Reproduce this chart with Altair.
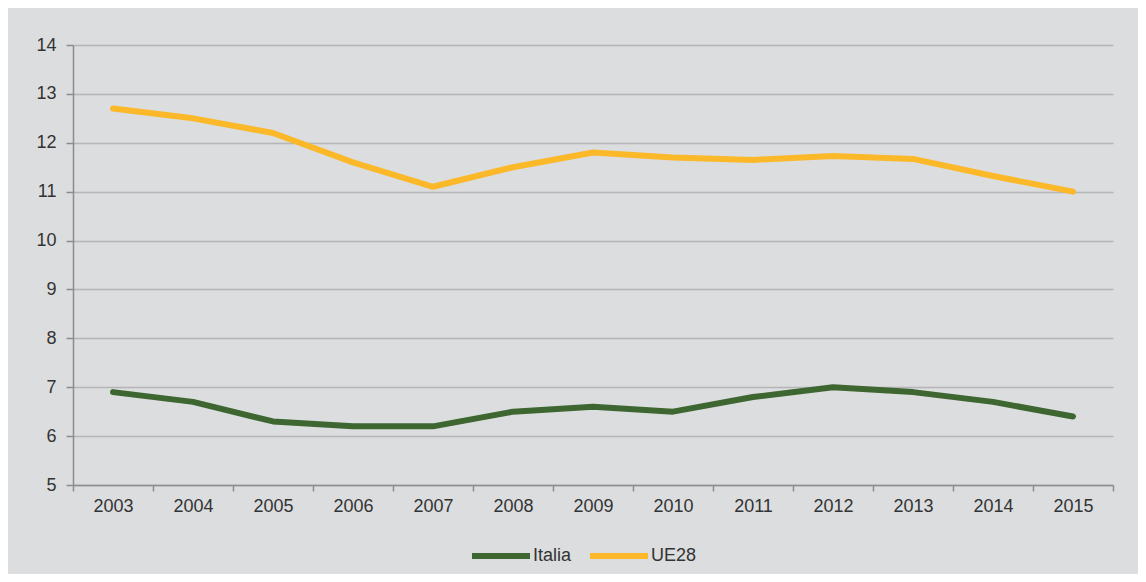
import altair as alt
import pandas as pd

years = ["2003", "2004", "2005", "2006", "2007", "2008", "2009",
         "2010", "2011", "2012", "2013", "2014", "2015"]
italia = [6.9, 6.7, 6.3, 6.2, 6.2, 6.5, 6.6, 6.5, 6.8, 7.0, 6.9, 6.7, 6.4]
ue28 = [12.7, 12.5, 12.2, 11.6, 11.1, 11.5, 11.8, 11.7, 11.65, 11.73, 11.67, 11.32, 11.0]
series_names = ["Italia", "UE28"]
series_colors = ["#3D6630", "#FBB829"]

rows = []
for name, vals in zip(series_names, [italia, ue28]):
    for y, v in zip(years, vals):
        rows.append({"anno": y, "valore": v, "serie": name})
df = pd.DataFrame(rows)

FONT = "Liberation Sans, Arial, sans-serif"
BG = "#DCDDDF"

chart = alt.Chart(df).mark_line(strokeWidth=6, strokeCap="round", strokeJoin="round").encode(
    x=alt.X("anno:O", bandPosition=0.5,
            scale=alt.Scale(type="band", paddingInner=0, paddingOuter=0),
            axis=alt.Axis(title=None, labelAngle=0, tickBand="extent", grid=False,
                          domainColor="#8C8C8C", tickColor="#8C8C8C", tickSize=6,
                          domainWidth=1.5, tickWidth=1.5,
                          labelPadding=6, labelFontSize=18, labelFont=FONT,
                          labelColor="#333333")),
    y=alt.Y("valore:Q", scale=alt.Scale(domain=[5, 14], nice=False, zero=False),
            axis=alt.Axis(title=None, values=list(range(5, 15)), grid=True,
                          gridColor="#B4B5B7", gridWidth=1.5,
                          domainColor="#8C8C8C", tickColor="#8C8C8C", tickSize=7,
                          domainWidth=1.5, tickWidth=1.5,
                          labelPadding=10, labelFontSize=18, labelFont=FONT,
                          labelColor="#333333")),
    color=alt.Color("serie:N",
                    scale=alt.Scale(domain=series_names, range=series_colors),
                    legend=alt.Legend(title=None, orient="none", direction="horizontal",
                                      legendX=396, legendY=479,
                                      symbolType="stroke", symbolSize=3364,
                                      symbolStrokeWidth=6, labelOffset=0,
                                      columnPadding=6, padding=0,
                                      labelFontSize=18, labelFont=FONT,
                                      labelColor="#333333")),
).properties(
    width=1040, height=440,
    background=BG,
    padding={"left": 65, "top": 37, "right": 25, "bottom": 89},
    autosize=alt.AutoSizeParams(type="none"),
).configure_view(stroke=None)

chart.save("out.html", embed_options={"renderer": "svg", "actions": False})
